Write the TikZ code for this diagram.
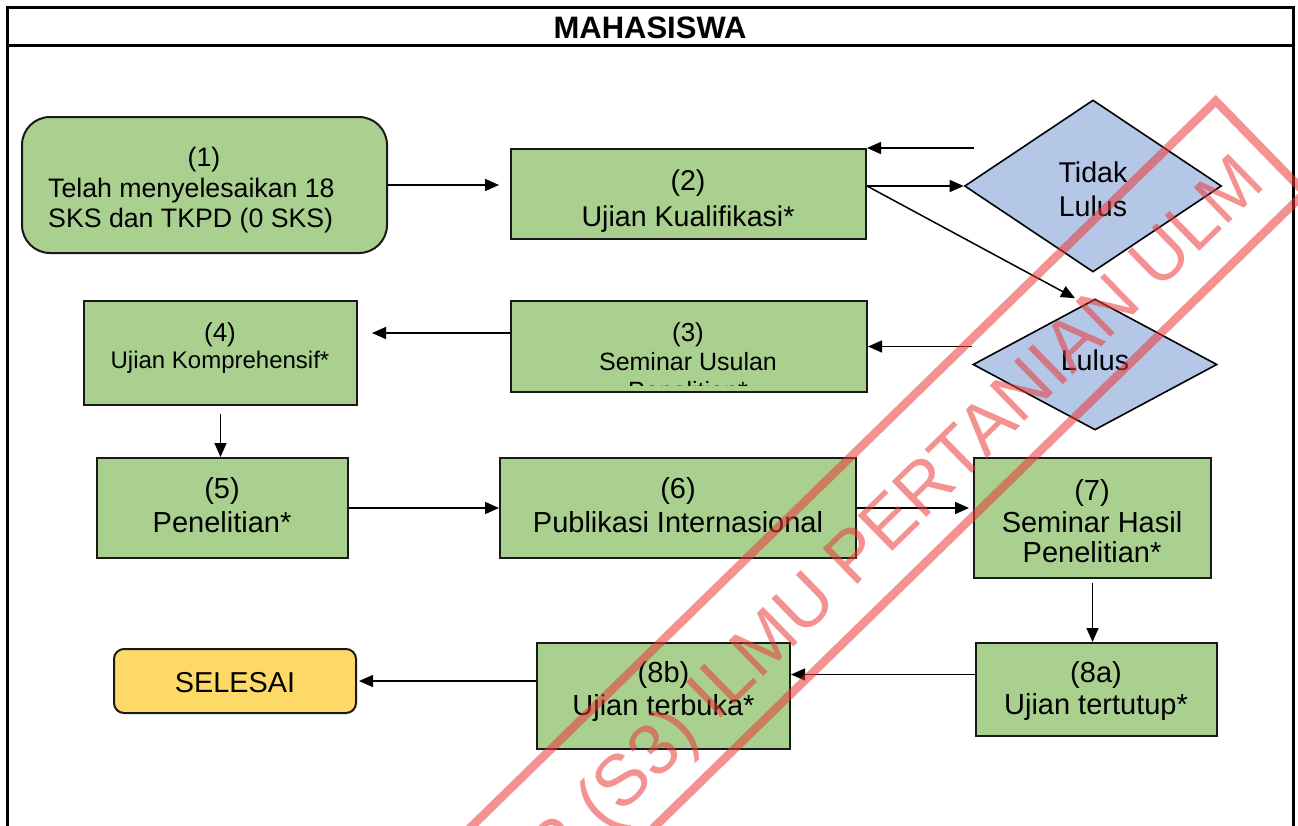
\documentclass[tikz,border=0pt]{standalone}
\usepackage{fontspec}
\setmainfont{Liberation Sans}
\usetikzlibrary{arrows.meta,shapes.geometric}
\definecolor{boxgreen}{HTML}{A9D08E}
\definecolor{boxblue}{HTML}{B4C7E7}
\definecolor{boxyellow}{HTML}{FFD966}
\definecolor{wmred}{RGB}{235,55,55}
\newcommand\fsz[1]{\fontsize{#1}{#1}\selectfont}

\begin{document}
\begin{tikzpicture}[x=1pt,y=-1pt,
  stepbox/.style={draw=black!90, line width=2pt, fill=boxgreen, inner sep=0pt},
  decision/.style={diamond, draw=black, line width=1.6pt, fill=boxblue, inner sep=0pt},
  txt/.style={anchor=base, inner sep=0pt, font=\fsz{29}},
  arr/.style={line width=1.5pt, -{Triangle[length=14pt,width=12pt]}},
]
\useasboundingbox (0,0) rectangle (1298,825);
\begin{scope}
\clip (0,0) rectangle (1298,825);

% swimlane frame and title
\draw[line width=3pt] (7,835) -- (7,7) -- (1293,7) -- (1293,835);
\draw[line width=3pt] (7,45) -- (1293,45);
\node[anchor=base, inner sep=0pt, font=\bfseries\fsz{31}] (title) at (650,38) {MAHASISWA};

% process boxes
\node[stepbox, rounded corners=28pt, minimum width=365pt, minimum height=136pt] (b1) at (204.5,185) {};
\node[stepbox, minimum width=355pt, minimum height=90pt]  (b2)  at (688.5,194) {};
\node[stepbox, minimum width=356pt, minimum height=91pt]  (b3)  at (689,346.5) {};
\node[stepbox, minimum width=273pt, minimum height=104pt] (b4)  at (220.5,353) {};
\node[stepbox, minimum width=251pt, minimum height=100pt] (b5)  at (222.5,508) {};
\node[stepbox, minimum width=356pt, minimum height=100pt] (b6)  at (678,508) {};
\node[stepbox, minimum width=237pt, minimum height=120pt] (b7)  at (1092.5,518) {};
\node[stepbox, minimum width=241pt, minimum height=93pt]  (b8a) at (1096,689.5) {};
\node[stepbox, minimum width=253pt, minimum height=106pt] (b8b) at (663.5,695.5) {};
\node[stepbox, fill=boxyellow, rounded corners=10pt, minimum width=242pt, minimum height=64pt] (sel) at (235,681) {};

% decisions
\node[decision, minimum width=257pt, minimum height=172pt] (tl) at (1093,186) {};
\node[decision, minimum width=244pt, minimum height=131pt] (lu) at (1095,364.5) {};

% box texts
\node[txt, font=\fsz{26.7}] (t1a) at (204,166) {(1)};
\node[txt, font=\fsz{26.7}, anchor=base west] (t1b) at (48,197) {Telah menyelesaikan 18};
\node[txt, font=\fsz{26.7}, anchor=base west] (t1c) at (48,227) {SKS dan TKPD (0 SKS)};

\node[txt, font=\fsz{28.6}] (t2a) at (688,190) {(2)};
\node[txt, font=\fsz{28.6}] (t2b) at (688,226) {Ujian Kualifikasi*};

\node[txt, font=\fsz{26}] (t3a) at (688,341) {(3)};
\node[txt, font=\fsz{25}] (t3b) at (688,370) {Seminar Usulan};
\begin{scope}
  \clip (b3.north west) rectangle ([yshift=8pt]b3.south east);
  \node[txt, font=\fsz{25}] (t3c) at (688,399) {Penelitian*};
\end{scope}

\node[txt, font=\fsz{26}] (t4a) at (220,341) {(4)};
\node[txt, font=\fsz{24}] (t4b) at (220,368) {Ujian Komprehensif*};

\node[txt] (t5a) at (222,498) {(5)};
\node[txt] (t5b) at (222,532) {Penelitian*};

\node[txt] (t6a) at (678,498) {(6)};
\node[txt] (t6b) at (678,532) {Publikasi Internasional};

\node[txt] (t7a) at (1092,500) {(7)};
\node[txt] (t7b) at (1092,532) {Seminar Hasil};
\node[txt] (t7c) at (1092,562) {Penelitian*};

\node[txt] (t8aa) at (1096,682) {(8a)};
\node[txt] (t8ab) at (1096,714) {Ujian tertutup*};

\node[txt] (t8ba) at (663.5,682) {(8b)};
\node[txt] (t8bb) at (663.5,715) {Ujian terbuka*};

\node[txt, font=\fsz{28.6}] (ttla) at (1093,182) {Tidak};
\node[txt, font=\fsz{28.6}] (ttlb) at (1093,216) {Lulus};
\node[txt, font=\fsz{28.6}] (tlu) at (1095,370) {Lulus};
\node[txt, font=\fsz{28.8}] (tsel) at (235,692) {SELESAI};

% connectors
\draw[arr, shorten >=11pt] (b1.east) -- (b1.east -| b2.west);
\draw[arr] (b2.east |- tl.west) -- (tl.west);
\draw[arr] ([xshift=10pt]tl.west |- b2.north east) -- (b2.north east);
\draw[arr] (b2.east |- tl.west) -- ([xshift=-20pt]lu.north);
\draw[arr] (lu.west |- b3.east) -- (b3.east);
\draw[arr, shorten >=14pt] ([yshift=13.5pt]b3.west) -- ([yshift=13.5pt]b3.west -| b4.east);
\draw[arr, shorten <=8pt] (b4.south) -- (b4.south |- b5.north);
\draw[arr] (b5.east) -- (b6.west);
\draw[arr, shorten >=4pt] (b6.east) -- (b6.east -| b7.west);
\draw[arr, shorten <=4pt] (b7.south) -- (b7.south |- b8a.north);
\draw[arr] ([yshift=15pt]b8a.west) -- ([yshift=15pt]b8a.west -| b8b.east);
\draw[arr, shorten >=2pt] (b8b.west |- sel.east) -- (sel.east);

% watermark stamp
\begin{scope}[opacity=.55]
  \draw[wmred, line width=8.5pt] (1215.7,101) -- (1305,192.7) -- (302.6,1169.9) -- (213.3,1078.2) -- cycle;
  \node[rotate=44.3, anchor=base west, inner sep=0pt, text=wmred, font=\fsz{72}] (wm) at (553,882) {R (S3) ILMU PERTANIAN ULM};
\end{scope}
\end{scope}
\end{tikzpicture}
\end{document}
